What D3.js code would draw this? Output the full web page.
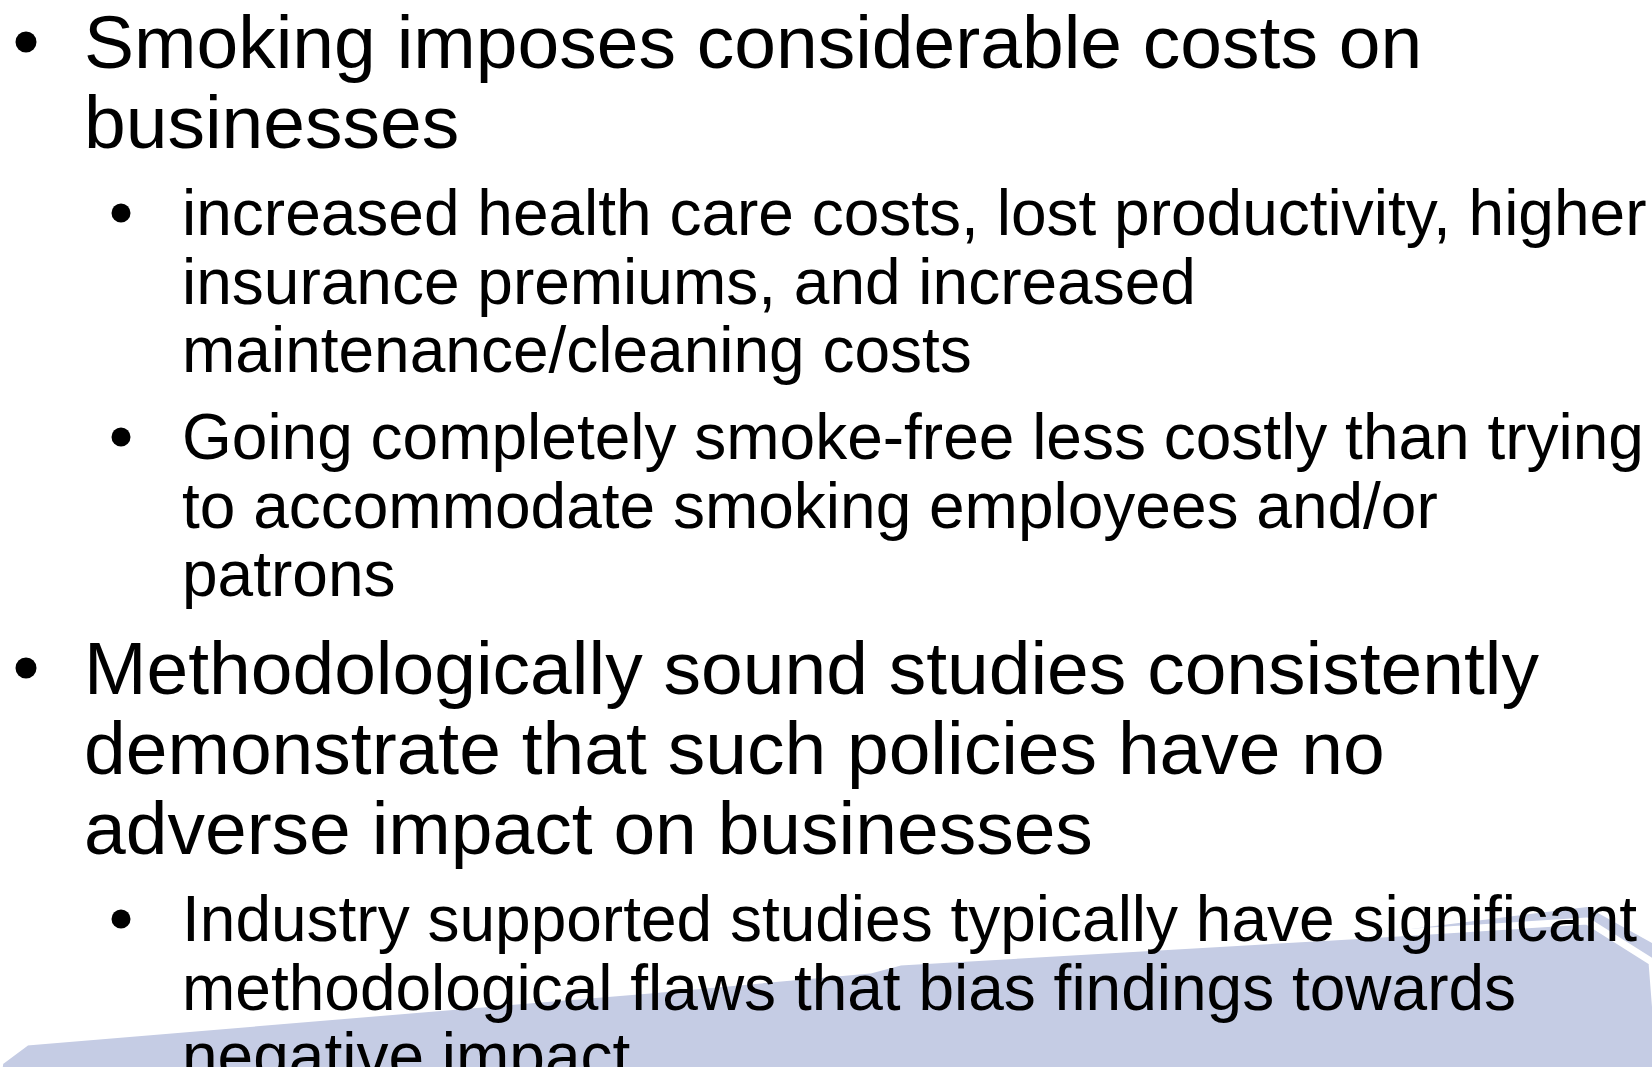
<!DOCTYPE html>
<html>
<head>
<meta charset="utf-8">
<script src="https://cdn.jsdelivr.net/npm/d3@7"></script>
<style>
  body { margin: 0; background: #fff; }
  svg { display: block; }
</style>
</head>
<body>
<div id="slide"></div>
<script>

// slide text, one array per paragraph
var para1 = ["Smoking imposes considerable costs on", "businesses"];
var para2 = ["increased health care costs, lost productivity, higher", "insurance premiums, and increased", "maintenance/cleaning costs"];
var para3 = ["Going completely smoke-free less costly than trying", "to accommodate smoking employees and/or", "patrons"];
var para4 = ["Methodologically sound studies consistently", "demonstrate that such policies have no", "adverse impact on businesses"];
var para5 = ["Industry supported studies typically have significant", "methodological flaws that bias findings towards", "negative impact"];

var paragraphs = [para1, para2, para3, para4, para5];
var levels = [1, 2, 2, 1, 2];

// decorative wave at the bottom of the slide (fraction of width / height)
var waveTop = [[0, 0.9953], [0.0163, 0.9766], [0.3935, 0.9278], [0.5266, 0.9091], [0.5448, 0.9016], [0.8172, 0.8772], [0.9607, 0.8632], [1, 0.9016]];
var waveBack = [[0.80, 0.8790], [0.835, 0.8744], [0.9607, 0.8500], [1, 0.8838]];

var width = 1652, height = 1067;

var svg = d3.select("#slide")
  .append("svg")
    .attr("width", width)
    .attr("height", height);

var x = d3.scaleLinear().domain([0, 1]).range([0, width]);
var y = d3.scaleLinear().domain([0, 1]).range([0, height]);

var line = d3.line()
  .x(function(d){ return x(d[0]); })
  .y(function(d){ return y(d[1]); });

// back strip, shows above the white highlight on the right
svg.append("path")
  .attr("d", line(waveBack.concat([[1, 1.1], [0.8, 1.1]])) + "Z")
  .attr("fill", "#c5cce4");

// main wave shape, white outline gives the highlight gap
svg.append("path")
  .attr("d", line(waveTop.concat([[1.01, 1.1], [-0.01, 1.1]])) + "Z")
  .attr("fill", "#c5cce4")
  .attr("stroke", "#fff")
  .attr("stroke-width", 7)
  .attr("stroke-linejoin", "round");

// text style per level
var style = {
  1: { size: 75, lead: 80, before: 18, textX: 84, bulletX: 26, bulletR: 10.5, bulletDy: 26 },
  2: { size: 64, lead: 68.5, before: 18.5, textX: 182, bulletX: 121, bulletR: 9.5, bulletDy: 22 }
};

var baseline = 68;
paragraphs.forEach(function(lines, i) {
  var s = style[levels[i]];
  if (i > 0) baseline += s.lead + s.before;

  // bullet
  svg.append("circle")
    .attr("cx", s.bulletX)
    .attr("cy", baseline - s.bulletDy)
    .attr("r", s.bulletR)
    .attr("fill", "#000");

  lines.forEach(function(t, j) {
    if (j > 0) baseline += s.lead;
    svg.append("text")
      .attr("x", s.textX)
      .attr("y", baseline)
      .attr("font-family", "'Liberation Sans', Arial, sans-serif")
      .attr("font-size", s.size)
      .attr("fill", "#000")
      .text(t);
  });
});

</script>
</body>
</html>
